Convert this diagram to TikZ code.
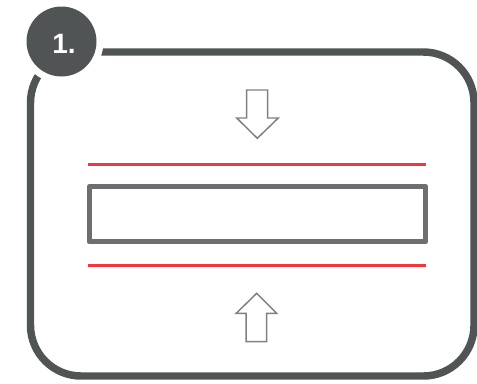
\documentclass[tikz,border=0pt]{standalone}
\usepackage{fontspec}
\setmainfont{Liberation Sans}
\definecolor{framegray}{HTML}{505455}
\definecolor{boxgray}{HTML}{6D6E71}
\definecolor{linered}{HTML}{EC383E}
\definecolor{arrowgray}{HTML}{808080}
\begin{document}
\begin{tikzpicture}[x=0.75pt,y=-0.75pt,
  framestyle/.style={draw=framegray,line width=5.6pt,rounded corners=38pt},
  redline/.style={draw=linered,line width=2.3pt},
  boxstyle/.style={draw=boxgray,line width=3.8pt,line join=round},
  arrowstyle/.style={draw=arrowgray,line width=1.1pt,fill=white,line join=miter},
  badge/.style={circle,fill=framegray,minimum size=52.5pt,inner sep=0pt,text=white,font=\fontsize{21}{21}\selectfont\bfseries}]
\useasboundingbox (0,0) rectangle (477,383);
\begin{scope}
\clip (0,0) rectangle (477,383);
% frame
\draw[framestyle] (30.5,52) rectangle (474,376);
\end{scope}
% gap ring around badge
\fill[white] (61.5,41.5) circle (42);
\node[badge] (b) at (61.5,41.5) {};
\node[text=white,font=\fontsize{21}{21}\selectfont\bfseries] (bl) at (64,44) {1.};
% red lines
\draw[redline] (88.3,164.3) coordinate (r1a) -- (425.7,164.3) coordinate (r1b);
\draw[redline] (88.3,265.3) coordinate (r2a) -- (425.7,265.3) coordinate (r2b);
% box
\draw[boxstyle] (89.2,186.5) rectangle (425.8,241.8);
% down arrow
\draw[arrowstyle] (246.7,90) -- (267.7,90) -- (267.7,118) -- (278.3,118) -- (257.3,138.3) -- (236.7,118) -- (246.7,118) -- cycle;
% up arrow
\draw[arrowstyle] (246.2,341.7) -- (266.7,341.7) -- (266.7,313.3) -- (276.7,313.3) -- (256.7,293.3) -- (236.2,313.3) -- (246.2,313.3) -- cycle;
\end{tikzpicture}
\end{document}
